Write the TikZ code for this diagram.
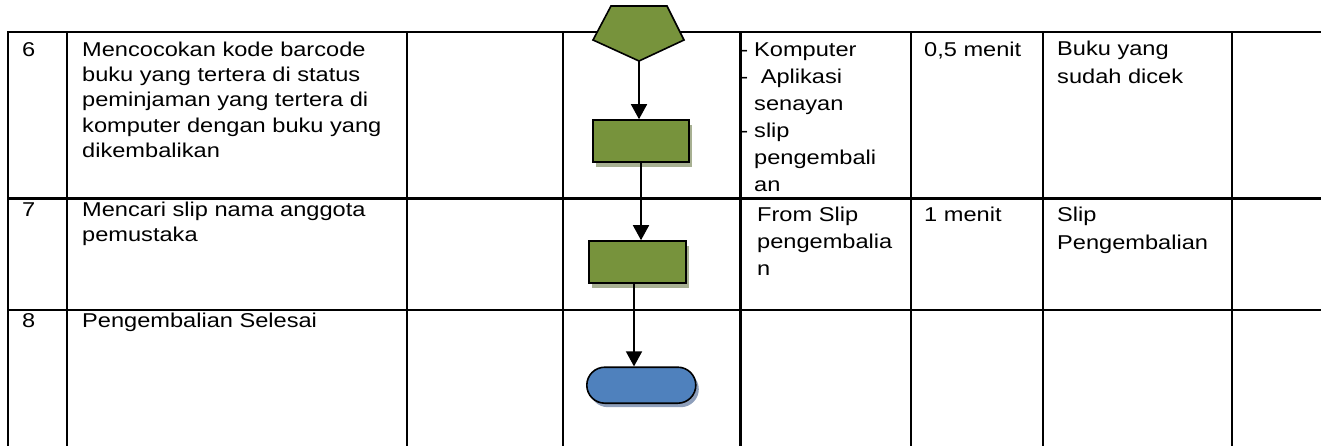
\documentclass[tikz,border=0pt]{standalone}
\usepackage{fontspec}
\setmainfont{Liberation Sans}[FakeStretch=1.18]
\usetikzlibrary{arrows.meta,shadows}
\definecolor{procgreen}{HTML}{77933C}
\definecolor{procshadow}{HTML}{A7B092}
\definecolor{termblue}{HTML}{4F81BD}
\definecolor{termshadow}{HTML}{8E9FBB}
\begin{document}
\begin{tikzpicture}[x=1pt,y=-1pt,
  grid/.style={line width=2.6pt},
  cell/.style={anchor=north west, inner sep=0pt, align=left, font=\fontsize{20}{25.3}\selectfont},
  cellb/.style={cell, font=\fontsize{20}{27}\selectfont},
  cellc/.style={cell, font=\fontsize{20}{28}\selectfont},
  proc/.style={draw=black, line width=1.6pt, fill=procgreen, minimum height=42pt, inner sep=0pt,
    drop shadow={shadow xshift=3pt, shadow yshift=-5pt, fill=procshadow, opacity=1}},
  term/.style={draw=black, line width=1.6pt, fill=termblue, minimum width=109pt, minimum height=36pt,
    inner sep=0pt, rounded corners=18pt,
    drop shadow={shadow xshift=3pt, shadow yshift=-4pt, fill=termshadow, opacity=1}},
  arr/.style={line width=1.6pt, -{Triangle[width=16pt,length=15pt]}}]
\useasboundingbox (0,0) rectangle (1321,446);

% texts
\node[cell] (n6) at (22,38.3) {\strut 6};
\node[cell] (t6) at (82,38.3) {\strut Mencocokan kode barcode\\buku yang tertera di status\\peminjaman yang tertera di\\komputer dengan buku yang\\dikembalikan};
\node[cellb] (a6) at (754,37.8) {\strut\llap{-\hspace{6pt}}Komputer\\\llap{-\hspace{6pt}}\ Aplikasi\\senayan\\\llap{-\hspace{6pt}}slip\\pengembali\\an};
\node[cell] (w6) at (924,38.3) {\strut 0,5 menit};
\node[cellc] (o6) at (1057,35.4) {\strut Buku yang\\sudah dicek};

\node[cell] (n7) at (22,198.3) {\strut 7};
\node[cell] (t7) at (82,198.3) {\strut Mencari slip nama anggota\\pemustaka};
\node[cellb] (a7) at (757,202.8) {\strut From Slip\\pengembalia\\n};
\node[cell] (w7) at (924,203.3) {\strut 1 menit};
\node[cellc] (o7) at (1057,201.4) {\strut Slip\\Pengembalian};

\node[cell] (n8) at (22,309.3) {\strut 8};
\node[cell] (t8) at (82,309.3) {\strut Pengembalian Selesai};

% table lines
\foreach \y in {32,198.3,310} \draw[grid] (7,\y) -- (1321,\y);
\foreach \x in {8,67,407,563,740.5,911,1043,1232} \draw[grid] (\x,32) -- (\x,446);

% flowchart shapes
\draw[line width=1.6pt, fill=procgreen, line join=miter]
  (611,6) -- (667,6) -- (684,40) -- (639,61) -- (593,40) -- cycle;
\coordinate (pb) at (639,61);
\node[proc, minimum width=96pt] (r1) at (641,141) {};
\node[proc, minimum width=97pt] (r2) at (637.5,262) {};
\node[term] (tm) at (641.3,385.2) {};

% connectors
\draw[arr] (pb) -- (pb |- r1.north);
\draw[arr] (r1.south) -- (r1.south |- r2.north);
\draw[arr] (r2.south) ++(-3.5,0) coordinate (s2) -- (s2 |- tm.north);
\end{tikzpicture}
\end{document}
